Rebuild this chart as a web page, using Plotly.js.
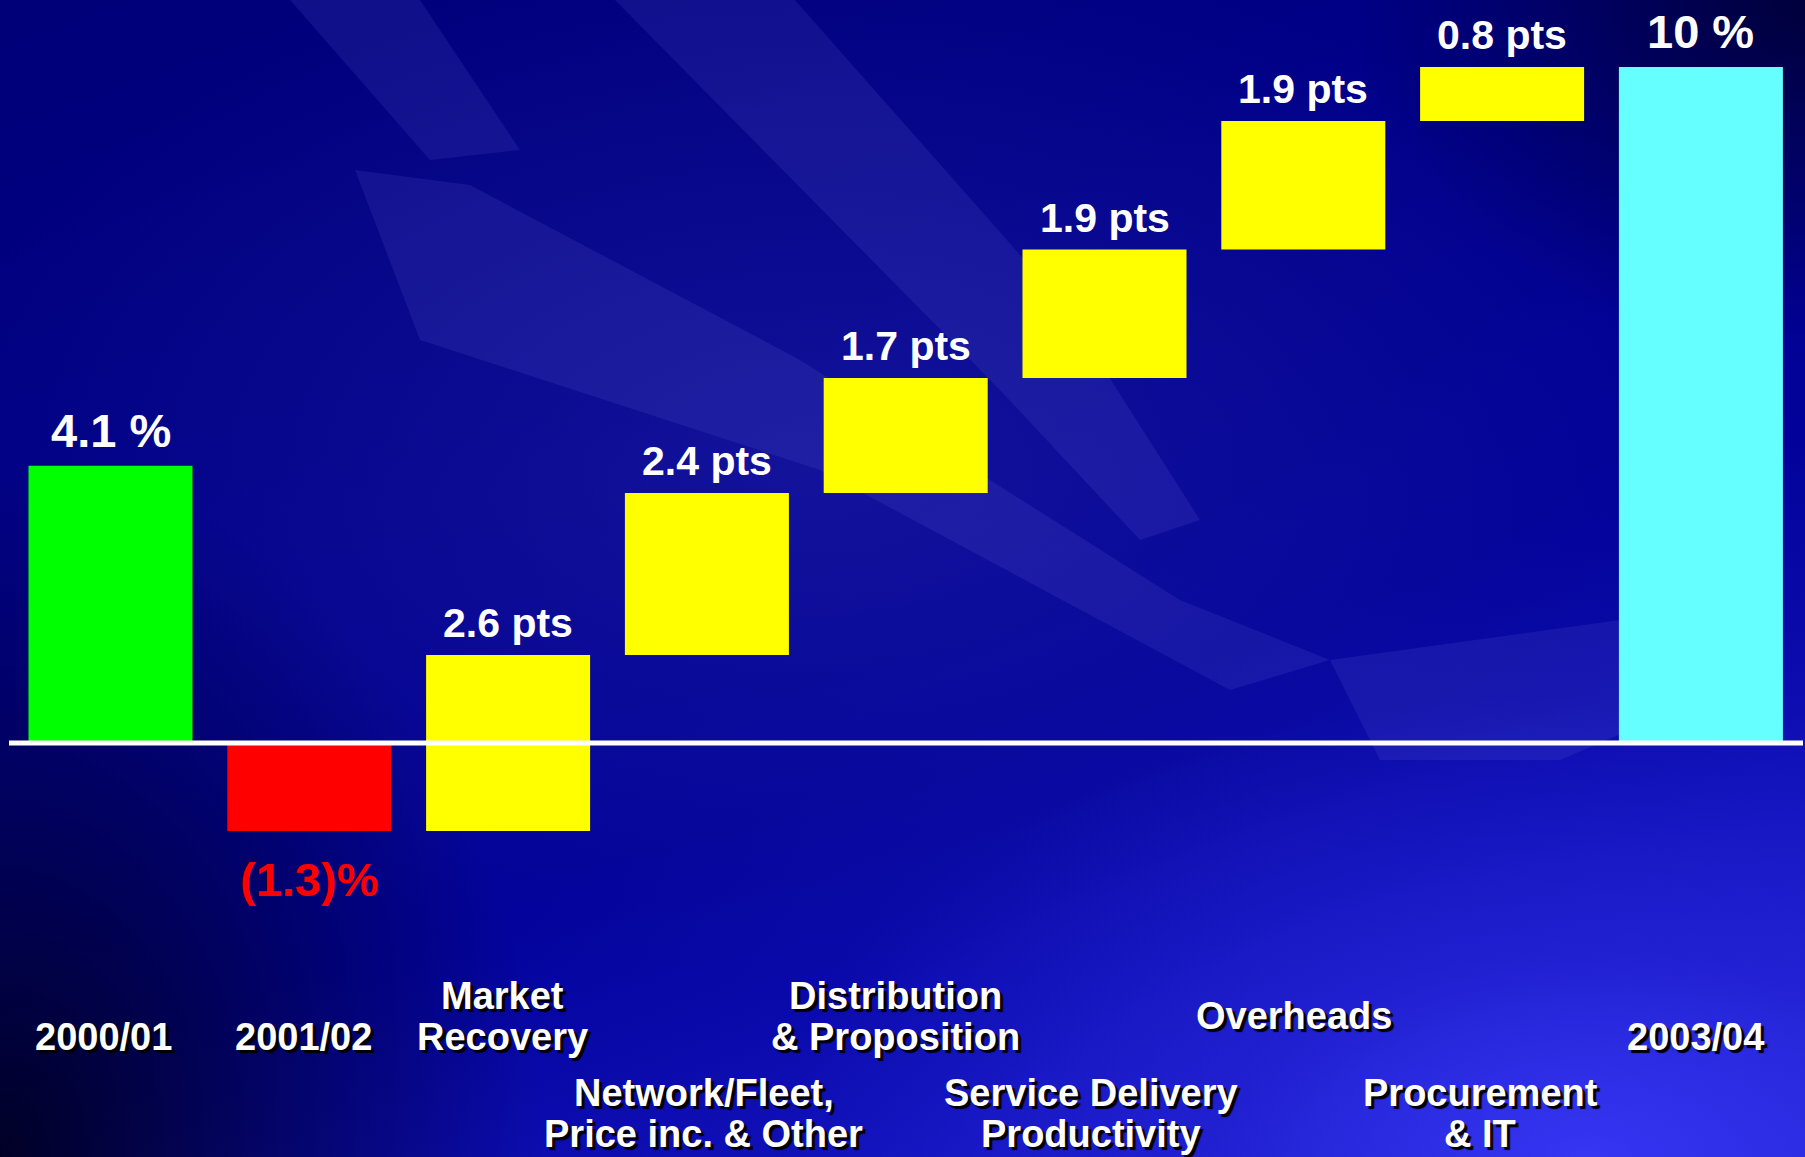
<!DOCTYPE html>
<html>
<head>
<meta charset="utf-8">
<script src="https://cdn.plot.ly/plotly-3.0.1.min.js"></script>
<style>
  html, body { margin: 0; padding: 0; }
  body {
    width: 1805px; height: 1157px; overflow: hidden;
    background:
      radial-gradient(ellipse 45% 40% at 88% 100%, rgba(55,55,245,0.95) 0%, rgba(40,40,220,0.6) 45%, rgba(20,20,180,0) 100%),
      radial-gradient(ellipse 30% 60% at 0% 100%, rgba(0,0,25,0.9) 0%, rgba(0,0,40,0.5) 50%, rgba(0,0,60,0) 100%),
      radial-gradient(ellipse 25% 30% at 100% 0%, rgba(0,0,40,0.8) 0%, rgba(0,0,60,0) 100%),
      radial-gradient(ellipse 50% 45% at 45% 40%, rgba(40,40,170,0.45) 0%, rgba(20,20,140,0) 100%),
      linear-gradient(160deg, #000078 0%, #00008a 35%, #02029a 60%, #1414c0 85%, #2424d8 100%);
  }
  #chart { width: 1805px; height: 1157px; }
</style>
</head>
<body>
<div id="chart"></div>
<script>
// ---- data ----
const categories = [
  '2000/01',
  '2001/02',
  'Market<br>Recovery',
  'Network/Fleet,<br>Price inc. & Other',
  'Distribution<br>& Proposition',
  'Service Delivery<br>Productivity',
  'Overheads',
  'Procurement<br>& IT',
  '2003/04'
];
const values = [4.1, -1.3, 2.6, 2.4, 1.7, 1.9, 1.9, 0.8, 10];
const measures = ['absolute', 'absolute', 'relative', 'relative', 'relative', 'relative', 'relative', 'relative', 'absolute'];
const valueLabels = ['4.1 %', '(1.3)%', '2.6 pts', '2.4 pts', '1.7 pts', '1.9 pts', '1.9 pts', '0.8 pts', '10 %'];

// ---- styles / layout config ----
const barColors = ['#00ff00', '#ff0000', '#ffff00', '#ffff00', '#ffff00', '#ffff00', '#ffff00', '#ffff00', '#66ffff'];
const W = 1805, H = 1157;
const zeroPx = 743, pxPerUnit = 67.6;
const firstCenterPx = 110.5, stepPx = 198.8;
const labelCenterPx = [1037, 1037, 1016, 1113, 1016, 1113, 1016, 1113, 1037];
const labelShiftPx = [-7, -6, -6, -3, -10, -14, -9, -22, -5];
const lineGapPx = 41;
const FONT = '"Liberation Sans", Arial, sans-serif';

// waterfall bases computed from values
const bases = [], heights = [], tops = [];
let running = 0;
values.forEach((v, i) => {
  if (measures[i] === 'absolute') { bases.push(0); heights.push(v); running = v; }
  else { bases.push(running); heights.push(v); running += v; }
  tops.push(bases[i] + heights[i]);
});
const xIdx = categories.map((c, i) => i);

const trace = {
  type: 'bar',
  x: xIdx,
  y: heights,
  base: bases,
  width: 0.825,
  marker: { color: barColors, line: { width: 0 } },
  hoverinfo: 'skip',
  showlegend: false
};

const annotations = [];
valueLabels.forEach((t, i) => {
  const neg = values[i] < 0;
  const big = measures[i] === 'absolute';
  annotations.push({
    x: i, y: tops[i], xref: 'x', yref: 'y',
    text: t, showarrow: false,
    xanchor: 'center', yanchor: neg ? 'top' : 'bottom',
    yshift: neg ? -20 : 7,
    font: { family: FONT, size: big ? 47 : 41, color: neg ? '#ff0000' : '#ffffff', weight: 'bold' }
  });
});
categories.forEach((c, i) => {
  const lines = c.split('<br>');
  const n = lines.length;
  lines.forEach((ln, j) => {
    const cy = labelCenterPx[i] + (j - (n - 1) / 2) * lineGapPx;
    annotations.push({
      x: i, y: 1 - cy / H, xref: 'x', yref: 'paper',
      xshift: labelShiftPx[i],
      text: ln, showarrow: false,
      xanchor: 'center', yanchor: 'middle',
      font: { family: FONT, size: 38, color: '#ffffff', weight: 'bold', shadow: '3px 3px 1px #000000' }
    });
  });
});

// decorative background swooshes (pixel polygons -> paper coords)
function path(pts) {
  return 'M ' + pts.map(p => (p[0] / W).toFixed(4) + ',' + (1 - p[1] / H).toFixed(4)).join(' L ') + ' Z';
}
const swooshes = [
  [[615, 0], [795, 0], [1060, 300], [1200, 520], [1140, 540], [1000, 390]],
  [[355, 170], [470, 185], [800, 360], [1180, 600], [1330, 660], [1230, 690], [820, 470], [420, 340]],
  [[1330, 660], [1620, 620], [1700, 700], [1560, 760], [1380, 760]],
  [[290, 0], [420, 0], [520, 150], [430, 160]]
];
const shapes = swooshes.map(p => ({
  type: 'path', xref: 'paper', yref: 'paper', path: path(p),
  fillcolor: 'rgba(120,120,230,0.13)', line: { width: 0 }, layer: 'below'
}));
shapes.push({
  type: 'line', xref: 'paper', yref: 'y',
  x0: 9 / W, x1: 1803 / W, y0: 0, y1: 0,
  line: { color: '#ffffff', width: 5 }, layer: 'above'
});

const layout = {
  width: W, height: H,
  margin: { l: 0, r: 0, t: 0, b: 0, pad: 0 },
  paper_bgcolor: 'rgba(0,0,0,0)',
  plot_bgcolor: 'rgba(0,0,0,0)',
  xaxis: {
    range: [-firstCenterPx / stepPx, (W - firstCenterPx) / stepPx],
    showgrid: false, zeroline: false, showticklabels: false, showline: false, fixedrange: true
  },
  yaxis: {
    range: [-(H - zeroPx) / pxPerUnit, zeroPx / pxPerUnit],
    showgrid: false, zeroline: false, showticklabels: false, showline: false, fixedrange: true
  },
  annotations: annotations,
  shapes: shapes,
  showlegend: false
};

Plotly.newPlot('chart', [trace], layout, { displayModeBar: false, staticPlot: true });
</script>
</body>
</html>
